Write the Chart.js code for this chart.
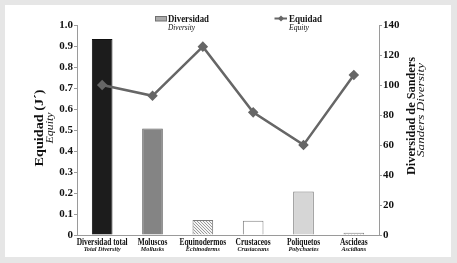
<!DOCTYPE html>
<html lang="es">
<head>
<meta charset="UTF-8">
<title>Diversidad y Equidad</title>
<script src="https://cdn.jsdelivr.net/npm/chart.js"></script>
<style>
  body { margin: 0; background: #e6e6e6; }
  #wrap { position: absolute; left: 0; top: 0; width: 457px; height: 263px; }
</style>
</head>
<body>
<div id="wrap"><canvas id="chart" width="457" height="263"></canvas></div>
<script>
    // data
    var categories = ['Diversidad total', 'Moluscos', 'Equinodermos', 'Crustaceos', 'Poliquetos', 'Ascideas'];
    var categoriesEn = ['Total Diversity', 'Mollusks', 'Echinoderms', 'Crustaceans', 'Polychaetes', 'Ascidians'];
    var sandersDiversity = [130.7, 71, 10, 9.5, 29, 1.5];
    var equity = [0.714, 0.663, 0.897, 0.584, 0.429, 0.762];
    var leftTicks = [0, 0.1, 0.2, 0.3, 0.4, 0.5, 0.6, 0.7, 0.8, 0.9, 1.0];
    var rightTicks = [0, 20, 40, 60, 80, 100, 120, 140];

    var serif = '"Liberation Serif", "Times New Roman", serif';

    function hatch() {
        var c = document.createElement('canvas');
        c.width = 3; c.height = 3;
        var g = c.getContext('2d');
        g.fillStyle = '#f4f4f4';
        g.fillRect(0, 0, 3, 3);
        g.fillStyle = '#9a9a9a';
        g.fillRect(0, 0, 1, 1);
        g.fillRect(1, 1, 1, 1);
        g.fillRect(2, 2, 1, 1);
        return g.createPattern(c, 'repeat');
    }
    function dots() {
        var c = document.createElement('canvas');
        c.width = 3; c.height = 3;
        var g = c.getContext('2d');
        g.fillStyle = '#ffffff';
        g.fillRect(0, 0, 3, 3);
        g.fillStyle = '#9a9a9a';
        g.fillRect(0, 0, 1, 1);
        return g.createPattern(c, 'repeat');
    }

    var barColors = ['#1c1c1c', '#848484', hatch(), '#ffffff', '#d6d6d6', dots()];
    var barBorders = ['#111111', '#5e5e5e', '#7a7a7a', '#808080', '#7a7a7a', '#808080'];

    // text squeezed horizontally to a given width (the source font is narrow)
    function fitText(ctx, text, x, y, font, width, angle) {
        ctx.save();
        ctx.font = font;
        var k = width / ctx.measureText(text).width;
        ctx.translate(x, y);
        if (angle) ctx.rotate(angle);
        ctx.scale(k, 1);
        ctx.fillText(text, 0, 0);
        ctx.restore();
    }

    var decor = {
        id: 'decor',
        beforeDraw: function (chart) {
            var ctx = chart.ctx;
            ctx.save();
            ctx.fillStyle = '#e6e6e6';
            ctx.fillRect(0, 0, 457, 263);
            ctx.fillStyle = '#ffffff';
            ctx.fillRect(5, 5, 446, 252);
            ctx.restore();
        },
        afterDraw: function (chart) {
            var ctx = chart.ctx;
            var xs = chart.scales.x;
            ctx.save();
            ctx.fillStyle = '#111';
            ctx.textBaseline = 'middle';

            // x labels, two lines each
            ctx.textAlign = 'center';
            ctx.font = 'bold 10px ' + serif;
            var k1 = 51 / ctx.measureText('Diversidad total').width;
            ctx.font = 'italic bold 7px ' + serif;
            var k2 = 37 / ctx.measureText('Total Diversity').width;
            for (var i = 0; i < categories.length; i++) {
                var px = xs.getPixelForValue(i);
                ctx.font = 'bold 10px ' + serif;
                fitText(ctx, categories[i], px, 242, ctx.font, ctx.measureText(categories[i]).width * k1);
                ctx.font = 'italic bold 7px ' + serif;
                fitText(ctx, categoriesEn[i], px, 249.5, ctx.font, ctx.measureText(categoriesEn[i]).width * k2);
            }

            // legend
            ctx.textAlign = 'left';
            ctx.fillStyle = '#ababab';
            ctx.fillRect(155.5, 16.5, 11, 4.5);
            ctx.strokeStyle = '#707070';
            ctx.lineWidth = 1;
            ctx.strokeRect(155.5, 16.5, 11, 4.5);
            ctx.fillStyle = '#111';
            fitText(ctx, 'Diversidad', 168, 19, 'bold 11px ' + serif, 41);
            fitText(ctx, 'Diversity', 168, 28, 'italic 8px ' + serif, 27);

            ctx.strokeStyle = '#666';
            ctx.lineWidth = 2;
            ctx.beginPath();
            ctx.moveTo(274.5, 18.5); ctx.lineTo(287, 18.5);
            ctx.stroke();
            ctx.fillStyle = '#666';
            ctx.beginPath();
            ctx.moveTo(281, 15.5); ctx.lineTo(284, 18.5); ctx.lineTo(281, 21.5); ctx.lineTo(278, 18.5);
            ctx.closePath();
            ctx.fill();
            ctx.fillStyle = '#111';
            fitText(ctx, 'Equidad', 289, 19, 'bold 11px ' + serif, 33);
            fitText(ctx, 'Equity', 289, 28, 'italic 8px ' + serif, 20);

            // axis titles
            ctx.textAlign = 'center';
            var up = -Math.PI / 2;
            fitText(ctx, 'Equidad (J´)', 40, 128, 'bold 13px ' + serif, 77, up);
            fitText(ctx, 'Equity', 50.5, 128, 'italic 11px ' + serif, 31, up);
            fitText(ctx, 'Diversidad de Sanders', 412, 116, 'bold 13px ' + serif, 118, up);
            fitText(ctx, 'Sanders Diversity', 421, 110, 'italic 11px ' + serif, 94, up);
            ctx.restore();
        }
    };

    var ctx = document.getElementById('chart').getContext('2d');
    var chart = new Chart(ctx, {
        type: 'bar',
        data: {
            labels: categories,
            datasets: [{
                type: 'line',
                label: 'Equidad',
                data: equity,
                yAxisID: 'yL',
                borderColor: '#666666',
                backgroundColor: '#666666',
                borderWidth: 2.5,
                pointStyle: 'rectRot',
                pointRadius: 3.5,
                tension: 0,
                order: 0
            }, {
                label: 'Diversidad',
                data: sandersDiversity,
                yAxisID: 'yR',
                backgroundColor: barColors,
                borderColor: barBorders,
                borderWidth: 1,
                barPercentage: 0.41,
                categoryPercentage: 1,
                order: 1
            }]
        },
        options: {
            responsive: false,
            animation: false,
            layout: { padding: { top: 25, left: 0, right: 0, bottom: 0 } },
            plugins: { legend: { display: false }, tooltip: { enabled: false } },
            scales: {
                x: {
                    grid: { display: false },
                    border: { color: '#9a9a9a', width: 1 },
                    ticks: { display: false },
                    afterFit: function (s) { s.height = 28; }
                },
                yL: {
                    position: 'left',
                    min: 0, max: 1,
                    afterBuildTicks: function (s) { s.ticks = leftTicks.map(function (v) { return { value: v }; }); },
                    ticks: {
                        color: '#111',
                        font: { family: serif, weight: 'bold', size: 11 },
                        padding: 1,
                        callback: function (v) { return v === 0 ? '0' : v.toFixed(1); }
                    },
                    grid: { drawOnChartArea: false, tickLength: 3, color: '#9a9a9a' },
                    border: { color: '#9a9a9a', width: 1 },
                    afterFit: function (s) { s.width = 77; }
                },
                yR: {
                    position: 'right',
                    min: 0, max: 140,
                    afterBuildTicks: function (s) { s.ticks = rightTicks.map(function (v) { return { value: v }; }); },
                    ticks: {
                        color: '#111',
                        font: { family: serif, weight: 'bold', size: 11 },
                        padding: 1
                    },
                    grid: { drawOnChartArea: false, tickLength: 3, color: '#9a9a9a' },
                    border: { color: '#9a9a9a', width: 1 },
                    afterFit: function (s) { s.width = 78; }
                }
            }
        },
        plugins: [decor]
    });
</script>
</body>
</html>
